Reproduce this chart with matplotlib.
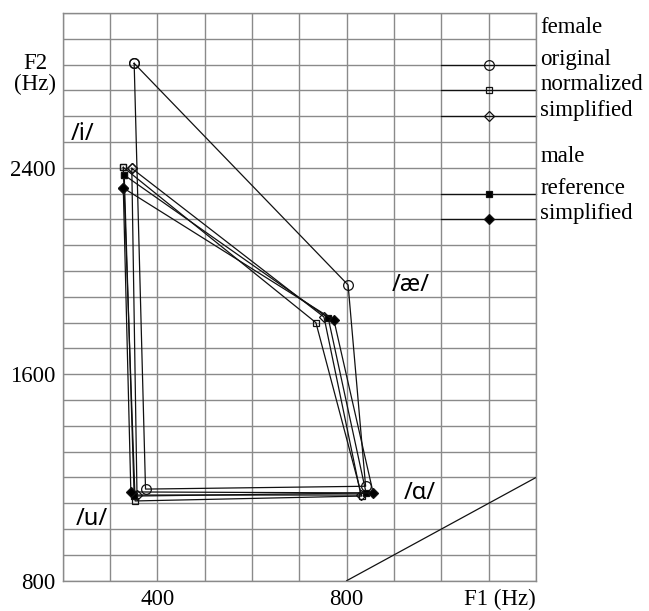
import matplotlib.pyplot as plt
import numpy as np

# F1/F2 (Hz) per vowel, in the order /i/, /ae/, /a/, /u/
vowels = ["i", "ae", "a", "u"]
f_orig_f1 = [351, 803, 840, 375]
f_orig_f2 = [2805, 1946, 1166, 1155]
f_norm_f1 = [328, 735, 832, 353]
f_norm_f2 = [2402, 1800, 1128, 1109]
f_simp_f1 = [346, 752, 830, 357]
f_simp_f2 = [2398, 1822, 1132, 1132]
m_ref_f1 = [330, 761, 841, 351]
m_ref_f2 = [2372, 1818, 1140, 1128]
m_simp_f1 = [328, 773, 856, 344]
m_simp_f2 = [2322, 1810, 1140, 1144]

vowel_labels = ["/i/", "/æ/", "/ɑ/", "/u/"]
vowel_label_f1 = [243, 936, 955, 262]
vowel_label_f2 = [2531, 1946, 1140, 1039]

plt.rcParams['font.family'] = ['Liberation Serif', 'DejaVu Serif']
FS = 16.5

fig = plt.figure(figsize=(6.49, 6.11), dpi=100)
ax = fig.add_axes([0.0966, 0.0496, 0.7293, 0.9291])
ax.set_xlim(200, 1200)
ax.set_ylim(800, 3000)

# grid every 100 Hz, only a few values labelled
xt = np.arange(200, 1201, 100)
yt = np.arange(800, 3001, 100)
ax.set_xticks(xt)
ax.set_xticklabels(["400" if v == 400 else "800" if v == 800 else "" for v in xt], fontsize=FS)
ax.set_yticks(yt)
ax.set_yticklabels([str(v) if v in (800, 1600, 2400) else "" for v in yt], fontsize=FS)
ax.tick_params(length=0, pad=5)
ax.tick_params(axis='x', pad=6)
ax.grid(True, color='#8a8a8a', lw=1.0)
ax.set_axisbelow(True)
for s in ax.spines.values():
    s.set_color('#8a8a8a')
    s.set_linewidth(1.0)

ax.text(1200, -0.014, "F1 (Hz)", transform=ax.get_xaxis_transform(),
        ha='right', va='top', fontsize=FS)
ax.text(-0.058, 2762, "F2\n(Hz)", transform=ax.get_yaxis_transform(),
        ha='center', va='center', fontsize=FS, linespacing=1.0,
        multialignment='center')

# diagonal F1 = F2
ax.plot([800, 1200], [800, 1200], color='#111111', lw=0.9)

series = [
    (f_orig_f1, f_orig_f2, dict(marker='o', ms=7, mfc='none')),
    (f_norm_f1, f_norm_f2, dict(marker='s', ms=5, mfc='none')),
    (f_simp_f1, f_simp_f2, dict(marker='D', ms=5, mfc='none')),
    (m_ref_f1, m_ref_f2, dict(marker='s', ms=5, mfc='black')),
    (m_simp_f1, m_simp_f2, dict(marker='D', ms=5, mfc='black')),
]
for f1, f2, style in series:
    ax.plot(f1 + f1[:1], f2 + f2[:1], color='#111111', lw=0.9, mec='#111111', mew=0.9, **style)

for lab, x, y in zip(vowel_labels, vowel_label_f1, vowel_label_f2):
    ax.text(x, y, lab, ha='center', va='center', fontsize=17,
            family=['Noto Sans', 'DejaVu Sans'])

# key drawn inside the grid on the right
key_f2 = [2800, 2700, 2600, 2300, 2200]
key_labels = ["original", "normalized", "simplified", "reference", "simplified"]
for (f1, f2, style), y, lab in zip(series, key_f2, key_labels):
    ax.plot([1000, 1200], [y, y], color='#111111', lw=0.9, clip_on=False)
    ax.plot([1100], [y], color='#111111', mec='#111111', mew=0.9, ls='none', **style)
    ax.text(1.009, y, lab, transform=ax.get_yaxis_transform(), ha='left',
            va='baseline', fontsize=FS)
ax.text(1.009, 2922, "female", transform=ax.get_yaxis_transform(), ha='left',
        va='baseline', fontsize=FS)
ax.text(1.009, 2422, "male", transform=ax.get_yaxis_transform(), ha='left',
        va='baseline', fontsize=FS)

fig.savefig("out.png", dpi=100)
